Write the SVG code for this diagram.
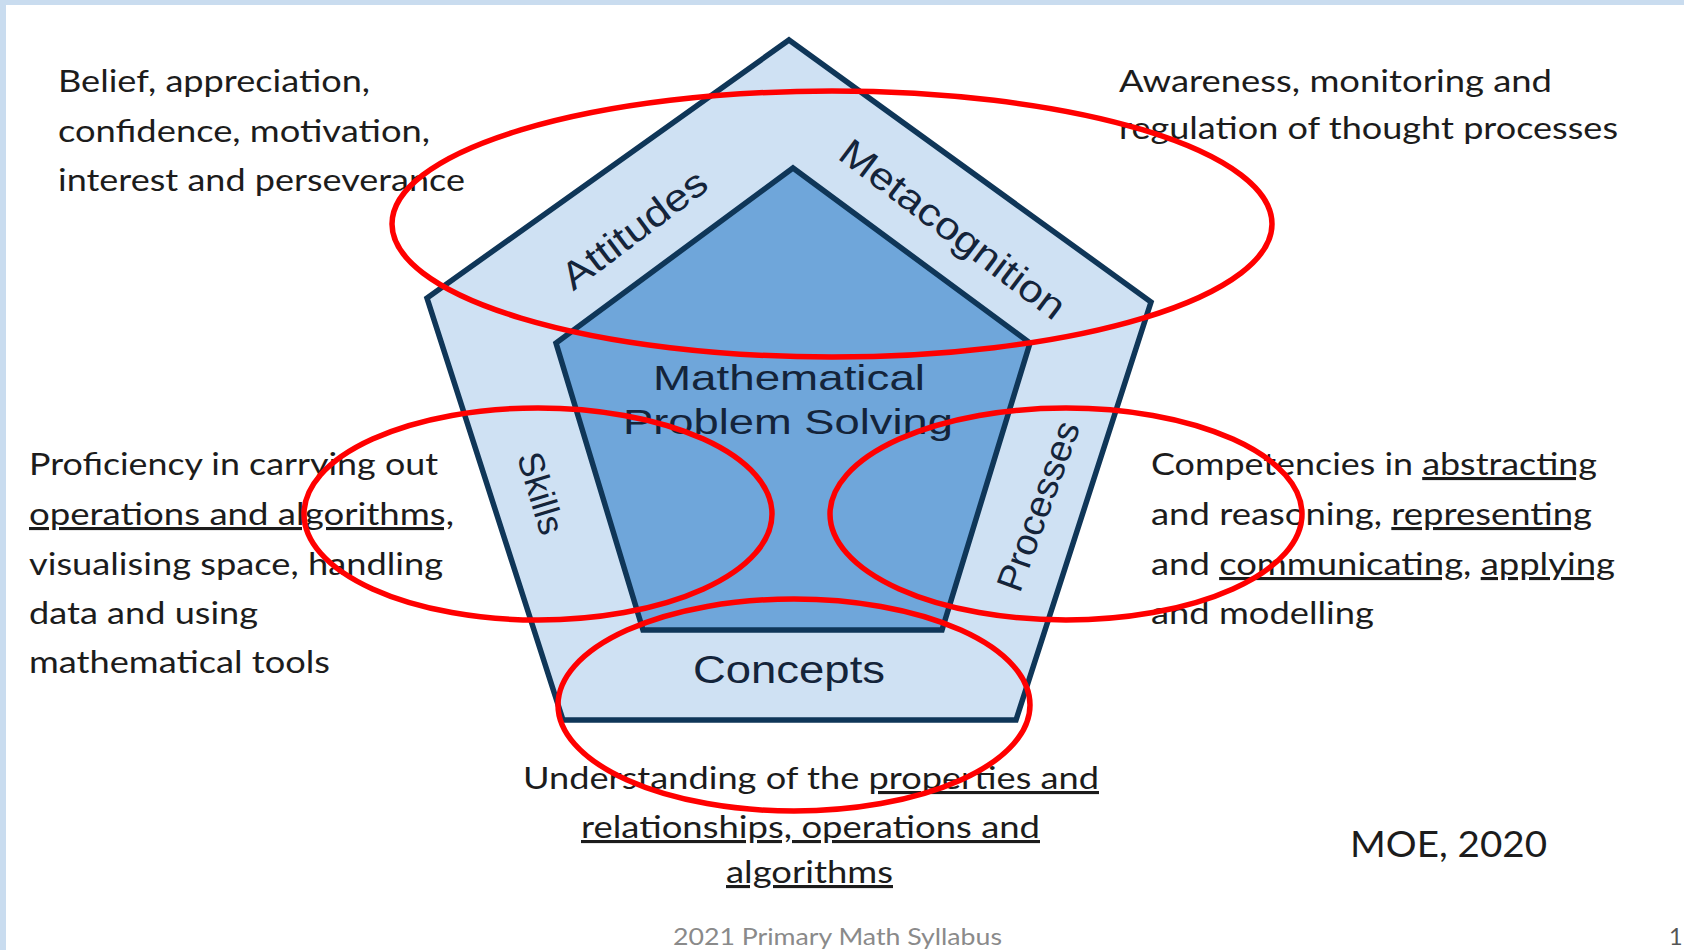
<svg xmlns="http://www.w3.org/2000/svg" width="1684" height="950" viewBox="0 0 1684 950">
<style>
.body{font-family:Lato,"Liberation Sans",sans-serif;font-size:31px;fill:#1c1c1c;}
.u{text-decoration:underline;}
.lbl{font-family:"Liberation Sans",Arial,sans-serif;fill:#14243a;}
.ring{fill:none;stroke:#ff0000;stroke-width:5.5;}
.pent{stroke:#0f3658;stroke-width:5.5;stroke-linejoin:miter;}
</style>
<rect x="0" y="0" width="1684" height="950" fill="#c9dcef"/>
<rect x="6" y="5" width="1678" height="945" fill="#ffffff"/>

<g id="framework">
  <polygon class="pent" points="789,40 1151,302 1016,720 563,720 427,298" fill="#cfe1f3"/>
  <polygon class="pent" points="793,168 1030,343 942,630 643,630 556,343" fill="#6fa6da"/>
</g>

<g id="core">
  <text class="lbl" x="653" y="390" font-size="35" textLength="272" lengthAdjust="spacingAndGlyphs">Mathematical</text>
  <text class="lbl" x="623" y="434" font-size="35" textLength="330" lengthAdjust="spacingAndGlyphs">Problem Solving</text>
</g>

<g id="attitudes">
  <text class="lbl" font-size="38" text-anchor="middle" dy="0.35em" textLength="172" lengthAdjust="spacingAndGlyphs" transform="translate(634,229) rotate(-37)">Attitudes</text>
</g>
<g id="metacognition">
  <text class="lbl" font-size="38" text-anchor="middle" dy="0.35em" textLength="272" lengthAdjust="spacingAndGlyphs" transform="translate(953,229) rotate(37)">Metacognition</text>
</g>
<g id="skills">
  <text class="lbl" font-size="36" text-anchor="middle" dy="0.35em" textLength="84" lengthAdjust="spacingAndGlyphs" transform="translate(541,493) rotate(73)">Skills</text>
</g>
<g id="processes">
  <text class="lbl" font-size="37" text-anchor="middle" dy="0.35em" textLength="178" lengthAdjust="spacingAndGlyphs" transform="translate(1038,506) rotate(-70)">Processes</text>
</g>
<g id="concepts">
  <text class="lbl" x="693" y="683" font-size="38" textLength="192" lengthAdjust="spacingAndGlyphs">Concepts</text>
</g>

<g id="attitudes-desc">
  <text class="body" x="58" y="92" textLength="312" lengthAdjust="spacingAndGlyphs">Belief, appreciation,</text>
  <text class="body" x="58" y="142" textLength="372" lengthAdjust="spacingAndGlyphs">confidence, motivation,</text>
  <text class="body" x="58" y="191" textLength="407" lengthAdjust="spacingAndGlyphs">interest and perseverance</text>
</g>

<g id="metacognition-desc">
  <text class="body" x="1119" y="92" textLength="433" lengthAdjust="spacingAndGlyphs">Awareness, monitoring and</text>
  <text class="body" x="1119" y="139" textLength="499" lengthAdjust="spacingAndGlyphs">regulation of thought processes</text>
</g>

<g id="skills-desc">
  <text class="body" x="29" y="475" textLength="409" lengthAdjust="spacingAndGlyphs">Proficiency in carrying out</text>
  <text class="body" x="29" y="525" textLength="425" lengthAdjust="spacingAndGlyphs"><tspan class="u">operations and algorithms,</tspan></text>
  <text class="body" x="29" y="575" textLength="414" lengthAdjust="spacingAndGlyphs">visualising space, handling</text>
  <text class="body" x="29" y="624" textLength="229" lengthAdjust="spacingAndGlyphs">data and using</text>
  <text class="body" x="29" y="673" textLength="301" lengthAdjust="spacingAndGlyphs">mathematical tools</text>
</g>

<g id="processes-desc">
  <text class="body" x="1151" y="475" textLength="446" lengthAdjust="spacingAndGlyphs">Competencies in <tspan class="u">abstracting</tspan></text>
  <text class="body" x="1151" y="525" textLength="441" lengthAdjust="spacingAndGlyphs">and reasoning, <tspan class="u">representing</tspan></text>
  <text class="body" x="1151" y="575" textLength="464" lengthAdjust="spacingAndGlyphs">and <tspan class="u">communicating</tspan>, <tspan class="u">applying</tspan></text>
  <text class="body" x="1151" y="624" textLength="223" lengthAdjust="spacingAndGlyphs">and modelling</text>
</g>

<g id="concepts-desc">
  <text class="body" x="523" y="789" textLength="576" lengthAdjust="spacingAndGlyphs">Understanding of the <tspan class="u">properties and</tspan></text>
  <text class="body" x="581" y="838" textLength="459" lengthAdjust="spacingAndGlyphs"><tspan class="u">relationships, operations and</tspan></text>
  <text class="body" x="726" y="883" textLength="167" lengthAdjust="spacingAndGlyphs"><tspan class="u">algorithms</tspan></text>
</g>

<g id="source">
  <text class="body" x="1350" y="857" textLength="197" lengthAdjust="spacingAndGlyphs" style="font-size:37px">MOE, 2020</text>
</g>

<g id="footer">
  <text x="673" y="945" font-family="Lato,'Liberation Sans',sans-serif" font-size="23.5" fill="#8a8a8a" textLength="329" lengthAdjust="spacingAndGlyphs">2021 Primary Math Syllabus</text>
  <text x="1669" y="945" font-family="Lato,'Liberation Sans',sans-serif" font-size="23.5" fill="#555555">1</text>
</g>

<g id="highlights">
  <ellipse class="ring" cx="832" cy="224" rx="440" ry="133"/>
  <ellipse class="ring" cx="538" cy="514" rx="234" ry="106"/>
  <ellipse class="ring" cx="1066" cy="514" rx="236" ry="106"/>
  <ellipse class="ring" cx="794" cy="705" rx="236" ry="106"/>
</g>
</svg>
